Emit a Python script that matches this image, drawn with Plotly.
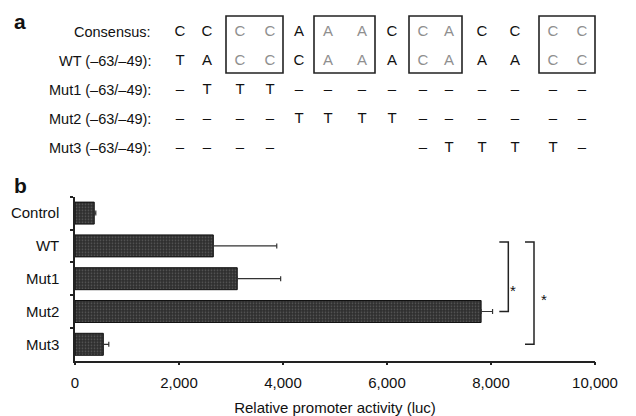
import plotly.graph_objects as go

# ---------------- data ----------------
categories = ["Control", "WT", "Mut1", "Mut2", "Mut3"]
activity = [370, 2660, 3120, 7810, 545]
error_plus = [30, 1220, 835, 220, 105]
x_ticks = [0, 2000, 4000, 6000, 8000, 10000]
x_tick_labels = ["0", "2,000", "4,000", "6,000", "8,000", "10,000"]

seq_labels = ["Consensus:", "WT (\u201363/\u201349):", "Mut1 (\u201363/\u201349):",
              "Mut2 (\u201363/\u201349):", "Mut3 (\u201363/\u201349):"]
seq_consensus = ["C", "C", "C", "C", "A", "A", "A", "C", "C", "A", "C", "C", "C", "C"]
seq_wt = ["T", "A", "C", "C", "C", "A", "A", "A", "C", "A", "A", "A", "C", "C"]
seq_mut1 = ["\u2013", "T", "T", "T", "\u2013", "\u2013", "\u2013", "\u2013", "\u2013", "\u2013", "\u2013", "\u2013", "\u2013", "\u2013"]
seq_mut2 = ["\u2013", "\u2013", "\u2013", "\u2013", "T", "T", "T", "T", "\u2013", "\u2013", "\u2013", "\u2013", "\u2013", "\u2013"]
seq_mut3 = ["\u2013", "\u2013", "\u2013", "\u2013", "", "", "", "", "\u2013", "T", "T", "T", "T", "\u2013"]
boxed_pairs = [(2, 3), (5, 6), (8, 9), (12, 13)]

# ---------------- layout helpers ----------------
PAGE_W, PAGE_H = 636, 416
OFF = 8                      # default page body margin
W, H = PAGE_W - OFF, PAGE_H - OFF
# sequence panel positions in page pixels
col_x = [180, 207, 240, 270, 299, 328, 362, 392, 423, 449, 482, 515, 553, 582]
row_y = [32, 61, 90, 119, 148]
label_x = 153
FONT = "Liberation Sans, Arial, Helvetica, sans-serif"

# bar plot area in page pixels
AX_L, AX_R, AX_T, AX_B = 75, 595, 196.7, 360.7

fig = go.Figure()

fig.add_trace(go.Bar(
    x=activity, y=categories, orientation="h",
    marker=dict(color="#2f2f2f", line=dict(color="#111111", width=1),
                pattern=dict(shape=".", fgcolor="#8a8a8a", size=3, solidity=0.25)),
    error_x=dict(type="data", symmetric=False, array=error_plus,
                 arrayminus=[0] * len(error_plus), color="#333333",
                 thickness=1.2, width=2.5),
    xaxis="x", yaxis="y", showlegend=False,
))

rows = [seq_consensus, seq_wt, seq_mut1, seq_mut2, seq_mut3]
bx, by, bt, gx, gy, gt = [], [], [], [], [], []
boxed_cols = {c for p in boxed_pairs for c in p}
for r, seq in enumerate(rows):
    for c, ch in enumerate(seq):
        if not ch:
            continue
        if r < 2 and c in boxed_cols:
            gx.append(col_x[c]); gy.append(row_y[r]); gt.append(ch)
        else:
            bx.append(col_x[c]); by.append(row_y[r]); bt.append(ch)

fig.add_trace(go.Scatter(x=bx, y=by, text=bt, mode="text", xaxis="x2", yaxis="y2",
                         textfont=dict(family=FONT, size=15, color="#111111"),
                         showlegend=False, hoverinfo="skip"))
fig.add_trace(go.Scatter(x=gx, y=gy, text=gt, mode="text", xaxis="x2", yaxis="y2",
                         textfont=dict(family=FONT, size=15, color="#8f8f8f"),
                         showlegend=False, hoverinfo="skip"))

annotations = []
for r, lab in enumerate(seq_labels):
    annotations.append(dict(x=label_x, y=row_y[r], xref="x2", yref="y2", text=lab,
                            showarrow=False, xanchor="right", yanchor="middle",
                            font=dict(family=FONT, size=14.5, color="#111111")))
annotations.append(dict(x=12, y=21, xref="x2", yref="y2", text="<b>a</b>", showarrow=False,
                        xanchor="left", yanchor="middle", font=dict(family=FONT, size=21, color="#111")))
annotations.append(dict(x=12, y=185, xref="x2", yref="y2", text="<b>b</b>", showarrow=False,
                        xanchor="left", yanchor="middle", font=dict(family=FONT, size=21, color="#111")))
annotations.append(dict(x=8430, y=2.36, xref="x", yref="y", text="*", showarrow=False,
                        xanchor="center", yanchor="middle", font=dict(family=FONT, size=15, color="#111")))
annotations.append(dict(x=9010, y=2.62, xref="x", yref="y", text="*", showarrow=False,
                        xanchor="center", yanchor="middle", font=dict(family=FONT, size=15, color="#111")))

shapes = []
for a, b in boxed_pairs:
    shapes.append(dict(type="rect", xref="x2", yref="y2",
                       x0=col_x[a] - 14, x1=col_x[b] + 13, y0=row_y[0] - 16, y1=row_y[1] + 12,
                       line=dict(color="#222222", width=1.6)))

def bracket(x0, x1, ya, yb):
    return dict(type="path", xref="x", yref="y",
                path=f"M {x0} {ya} L {x1} {ya} L {x1} {yb} L {x0} {yb}",
                line=dict(color="#222222", width=1.5))
shapes.append(bracket(8160, 8333, 0.88, 3.0))
shapes.append(bracket(8654, 8827, 0.88, 4.0))

fig.update_layout(
    width=W, height=H, margin=dict(l=0, r=0, t=0, b=0, pad=0, autoexpand=False),
    paper_bgcolor="white", plot_bgcolor="rgba(0,0,0,0)",
    bargap=0.33,
    font=dict(family=FONT, size=15, color="#111111"),
    xaxis=dict(domain=[(AX_L - OFF) / W, (AX_R - OFF) / W], range=[0, 10000],
               tickvals=x_ticks, ticktext=x_tick_labels,
               showline=True, linecolor="#222", linewidth=1.5, ticks="outside", ticklen=3,
               tickcolor="#222", tickwidth=1.5, showgrid=False, zeroline=False,
               anchor="y", tickfont=dict(size=15), automargin=False, ticklabelstandoff=5,
               title=dict(text="Relative promoter activity (luc)", font=dict(size=15), standoff=12)),
    yaxis=dict(domain=[(PAGE_H - AX_B) / H, (PAGE_H - AX_T) / H], categoryorder="array",
               categoryarray=categories, autorange="reversed", showline=True, linecolor="#222",
               linewidth=1.5, ticks="outside", ticklen=3, tickcolor="#222", tickwidth=1.5,
               tickson="boundaries", showgrid=False, zeroline=False, anchor="x",
               tickfont=dict(size=15), ticklabelstandoff=11, automargin=False),
    xaxis2=dict(domain=[0, 1], range=[OFF, PAGE_W], visible=False, anchor="y2",
                fixedrange=True, automargin=False),
    yaxis2=dict(domain=[0, 1], range=[PAGE_H, OFF], visible=False, anchor="x2",
                fixedrange=True, automargin=False),
    annotations=annotations, shapes=shapes,
)

fig.write_html("out.html")
